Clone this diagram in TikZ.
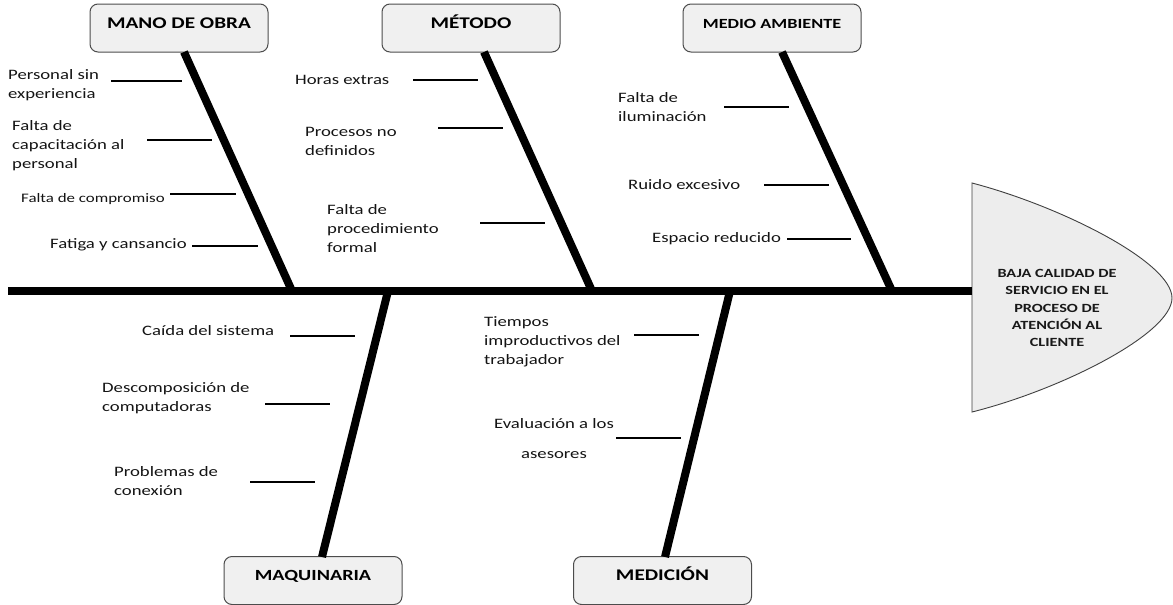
\documentclass[tikz,border=0pt]{standalone}
\usepackage{fontspec}
\setmainfont{Carlito}[FakeStretch=1.3]
\begin{document}
\begin{tikzpicture}[x=1pt,y=-1pt]
\tikzset{
  catbox/.style={draw=black!70, fill=black!6, rounded corners=8pt, line width=1pt,
    minimum width=178pt, minimum height=48pt, inner sep=0pt,
    text height=10pt, text depth=10pt, font=\bfseries\fontsize{16.3}{19}\selectfont},
  bone/.style={line width=8pt, black},
  rib/.style={line width=1.8pt, black},
  lbl/.style={font=\fontsize{14.4}{19}\selectfont, align=left, inner sep=0pt, anchor=west, text=black!92},
  headtxt/.style={font=\bfseries\fontsize{12.5}{17.3}\selectfont, align=center, inner sep=0pt, text=black!90}
}
\useasboundingbox (0,0) rectangle (1173,605);

% category boxes
\node[catbox] (mob) at (179,28) {MANO DE OBRA};
\node[catbox] (met) at (471,28) {MÉTODO};
\node[catbox, font=\bfseries\fontsize{14}{19}\selectfont] (mam) at (772,28) {MEDIO AMBIENTE};
\node[catbox, font=\bfseries\fontsize{15.5}{19}\selectfont] (maq) at (313,580.5) {MAQUINARIA};
\node[catbox] (med) at (662.5,580.5) {MEDICIÓN};

% head
\coordinate (hT) at (972,183);
\coordinate (hB) at (972,412);
\coordinate (hP) at (1172,298);
\draw[draw=black!75, fill=black!7, line width=0.9pt]
  (hT) .. controls (1060,206) and (1172,262) .. (hP)
       .. controls (1172,334) and (1060,390) .. (hB) -- cycle;
\node[headtxt] (eff) at (1057,308) {BAJA CALIDAD DE\\SERVICIO EN EL\\PROCESO DE\\ATENCIÓN AL\\CLIENTE};

% spine
\coordinate (tail) at (8,291);
\coordinate (hW) at (972,291);
\draw[bone] (tail) -- (hW);

% bone coordinates
\coordinate (moT) at (184,52);   \coordinate (moS) at (292,291);
\coordinate (meT) at (484,52);   \coordinate (meS) at (592,291);
\coordinate (maT) at (782,52);   \coordinate (maS) at (892,291);
\coordinate (mqS) at (388,291);  \coordinate (mqB) at (322,557);
\coordinate (mdS) at (730,291);  \coordinate (mdB) at (665,557);
\draw[bone] (moT) -- (moS);
\draw[bone] (meT) -- (meS);
\draw[bone] (maT) -- (maS);
\draw[bone] (mqS) -- (mqB);
\draw[bone] (mdS) -- (mdB);

% ribs: mano de obra
\coordinate (r1a) at (111,81);  \coordinate (r1b) at (182,81);
\coordinate (r2a) at (147,140); \coordinate (r2b) at (212,140);
\coordinate (r3a) at (170,194); \coordinate (r3b) at (236,194);
\coordinate (r4a) at (192,246); \coordinate (r4b) at (258,246);
% metodo
\coordinate (r5a) at (413,80);  \coordinate (r5b) at (478,80);
\coordinate (r6a) at (438,128); \coordinate (r6b) at (503,128);
\coordinate (r7a) at (480,223); \coordinate (r7b) at (545,223);
% medio ambiente
\coordinate (r8a) at (724,107); \coordinate (r8b) at (789,107);
\coordinate (r9a) at (764,185); \coordinate (r9b) at (829,185);
\coordinate (r10a) at (787,239); \coordinate (r10b) at (851,239);
% maquinaria
\coordinate (r11a) at (290,336); \coordinate (r11b) at (355,336);
\coordinate (r12a) at (265,404); \coordinate (r12b) at (330,404);
\coordinate (r13a) at (250,482); \coordinate (r13b) at (315,482);
% medicion
\coordinate (r14a) at (634,335); \coordinate (r14b) at (699,335);
\coordinate (r15a) at (616,438); \coordinate (r15b) at (681,438);
\foreach \i in {1,...,15} { \draw[rib] (r\i a) -- (r\i b); }

% labels
\node[lbl] (t1) at (8,85) {Personal sin\\experiencia};
\node[lbl] (t2) at (12,146) {Falta de\\capacitación al\\personal};
\node[lbl, font=\fontsize{13}{19}\selectfont] (t3) at (21,199) {Falta de compromiso};
\node[lbl] (t4) at (50,245) {Fatiga y cansancio};

\node[lbl] (t5) at (295,80) {Horas extras};
\node[lbl] (t6) at (305,141) {Procesos no\\definidos};
\node[lbl] (t7) at (327,229) {Falta de\\procedimiento\\formal};

\node[lbl] (t8) at (618,107) {Falta de\\iluminación};
\node[lbl] (t9) at (628,185) {Ruido excesivo};
\node[lbl] (t10) at (652,239) {Espacio reducido};

\node[lbl] (t11) at (142,331) {Caída del sistema};
\node[lbl] (t12) at (102,398) {Descomposición de\\computadoras};
\node[lbl] (t13) at (114,481) {Problemas de\\conexión};

\node[lbl] (t14) at (484,342) {Tiempos\\improductivos del\\trabajador};
\node[lbl, anchor=center, align=center, font=\fontsize{14.4}{30}\selectfont] (t15) at (554,439) {Evaluación a los\\asesores};
\end{tikzpicture}
\end{document}
